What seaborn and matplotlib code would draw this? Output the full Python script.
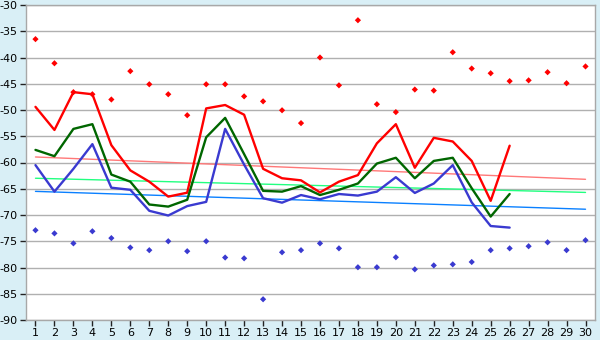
import matplotlib
matplotlib.use("Agg")
import matplotlib.pyplot as plt
import seaborn as sns
import pandas as pd

days = list(range(1, 31))
line_days = list(range(1, 27))

red_line = [-49.4, -53.8, -46.6, -47.0, -56.7, -61.5, -63.65, -66.5, -65.75, -49.7,
            -49.05, -50.9, -61.2, -63.0, -63.4, -65.7, -63.65, -62.4, -56.35, -52.7,
            -61.0, -55.3, -56.0, -59.7, -67.3, -56.8]
green_line = [-57.6, -58.8, -53.6, -52.7, -62.3, -63.65, -68.0, -68.4, -67.1, -55.2,
              -51.5, -58.4, -65.4, -65.55, -64.5, -66.2, -65.2, -64.0, -60.2, -59.1,
              -63.0, -59.7, -59.1, -64.9, -70.3, -66.0]
blue_line = [-60.5, -65.55, -61.2, -56.5, -64.8, -65.2, -69.2, -70.1, -68.3, -67.5,
             -53.6, -60.4, -66.8, -67.65, -66.2, -67.0, -66.0, -66.3, -65.55, -62.8,
             -65.8, -64.0, -60.5, -67.6, -72.1, -72.4]
red_points = [-36.5, -41.1, -46.6, -47.0, -48.0, -42.6, -45.1, -47.0, -51.0, -45.1,
              -45.1, -47.4, -48.35, -50.05, -52.5, -40.0, -45.3, -32.9, -48.9, -50.4,
              -46.1, -46.3, -39.0, -42.1, -43.0, -44.5, -44.35, -42.8, -44.9, -41.7]
blue_points = [-72.9, -73.5, -75.4, -73.1, -74.4, -76.2, -76.7, -75.0, -76.9, -75.0,
               -78.1, -78.25, -86.05, -77.1, -76.7, -75.4, -76.35, -79.95, -79.95, -78.05,
               -80.35, -79.6, -79.4, -78.95, -76.7, -76.35, -75.95, -75.2, -76.7, -74.8]
trend_days = [1, 30]
red_trend = [-58.95, -63.2]
green_trend = [-63.0, -65.7]
blue_trend = [-65.5, -68.9]

y_ticks = list(range(-90, -29, 5))

sns.set_theme(style="white")
plt.rcParams['font.family'] = ['DejaVu Sans']

bg = "#d9eff6"
fig = plt.figure(figsize=(6.0, 3.4), dpi=100, facecolor=bg)
ax = fig.add_axes([26/600, 1-320/340, (595-26)/600, 315/340])
ax.set_facecolor("white")

for yv in y_ticks:
    ax.axhline(yv, color="#b0b0b0", lw=1.0, zorder=1)

trends = pd.DataFrame({"x": trend_days * 3,
                       "y": red_trend + green_trend + blue_trend,
                       "s": ["r"] * 2 + ["g"] * 2 + ["b"] * 2})
sns.lineplot(data=trends, x="x", y="y", hue="s",
             palette={"r": "#ff7878", "g": "#22ff80", "b": "#0a80ff"},
             lw=1.0, legend=False, ax=ax, zorder=2)

lines = pd.DataFrame({"x": line_days * 3,
                      "y": red_line + green_line + blue_line,
                      "s": ["r"] * 26 + ["g"] * 26 + ["b"] * 26})
sns.lineplot(data=lines, x="x", y="y", hue="s",
             palette={"r": "#ff0000", "g": "#006600", "b": "#3a3ad0"},
             lw=1.7, legend=False, ax=ax, zorder=3)

pts = pd.DataFrame({"x": days * 2, "y": red_points + blue_points,
                    "s": ["r"] * 30 + ["b"] * 30})
sns.scatterplot(data=pts, x="x", y="y", hue="s",
                palette={"r": "#ff0000", "b": "#3a3ad0"},
                marker="D", s=10, linewidth=0, legend=False, ax=ax, zorder=4)

ax.set_xlim(0.5, 30.5)
ax.set_ylim(-90, -30)
ax.set_xticks(days)
ax.set_xticklabels([str(d) for d in days])
ax.set_yticks(y_ticks)
ax.set_yticklabels([str(v) for v in y_ticks])
ax.set_xlabel("")
ax.set_ylabel("")
ax.tick_params(axis="both", which="both", labelsize=8, colors="#222222",
               length=4, width=1, direction="out", pad=2, labelcolor="black")
ax.tick_params(axis="x", bottom=True)
ax.tick_params(axis="y", left=True)
for side in ["left", "bottom", "top", "right"]:
    ax.spines[side].set_color("#a8a8a8")
    ax.spines[side].set_linewidth(1)

fig.savefig("out.png", dpi=100, facecolor=bg)
